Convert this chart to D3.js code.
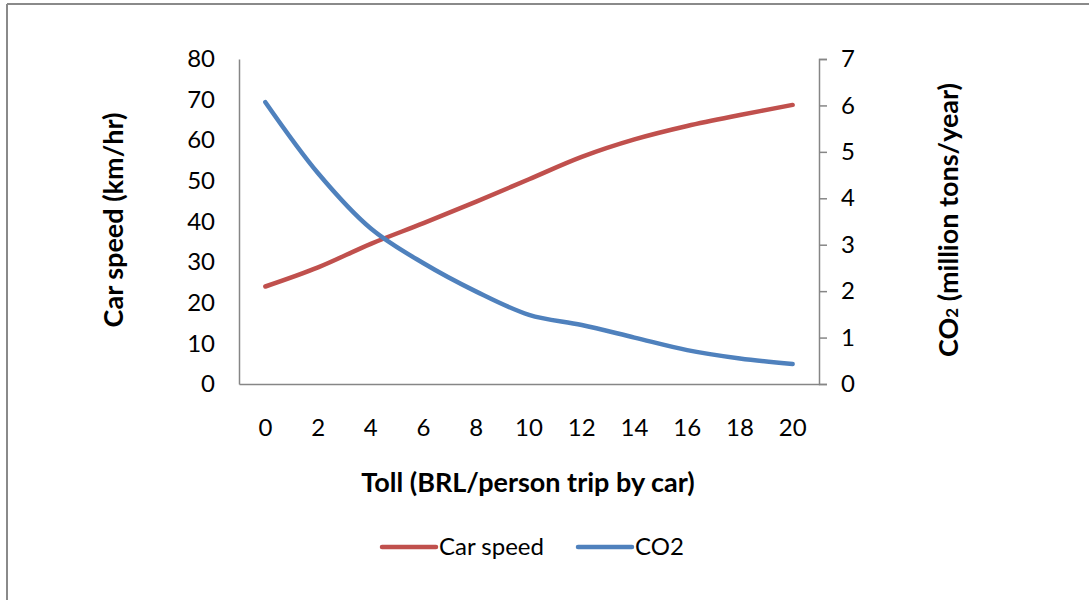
<!DOCTYPE html>
<html lang="en">
  <head>
    <meta charset="utf-8">
    <title>Car speed and CO2 vs toll</title>
    <script src="https://d3js.org/d3.v7.js"></script>
    <style>
      body { margin: 0; background: white; overflow: hidden; }
      svg { display: block; }
      text { font-family: Lato, "Open Sans", sans-serif; fill: #000; }
    </style>
  </head>
  <body>
  <script>

// data
  const tolls = [0, 2, 4, 6, 8, 10, 12, 14, 16, 18, 20];
  const carSpeed = [24, 28.7, 34.5, 39.6, 44.9, 50.4, 55.9, 60.2, 63.5, 66.2, 68.7];
  const co2 = [6.07, 4.54, 3.35, 2.6, 1.99, 1.49, 1.27, 1.0, 0.73, 0.55, 0.43];
  const speedTicks = [0, 10, 20, 30, 40, 50, 60, 70, 80];
  const co2Ticks = [0, 1, 2, 3, 4, 5, 6, 7];

  const w = 1089;
  const h = 600;
  const margin = {top: 59, right: 270, bottom: 216, left: 239};
  const innerWidth = w - margin.left - margin.right;
  const innerHeight = h - margin.top - margin.bottom;

  const axisColor = "#868686";
  const red = "#C0504D";
  const blue = "#4F81BD";
  const tickFont = "24px";
  const titleFont = "27px";

  const xScale = d3.scaleBand()
      .domain(tolls)
      .range([0, innerWidth]);

  const yLeft = d3.scaleLinear()
      .domain([0, 80])
      .range([innerHeight, 0]);

  const yRight = d3.scaleLinear()
      .domain([0, 7])
      .range([innerHeight, 0]);

  const svg = d3.select("body")
    .append("svg")
      .attr("width", w)
      .attr("height", h);

// outer frame (only top and left edges are visible)
  svg.append("line")
      .attr("x1", 7).attr("x2", w)
      .attr("y1", 4).attr("y2", 4)
      .attr("stroke", "#8a8a8a")
      .attr("stroke-width", 2);
  svg.append("line")
      .attr("x1", 7).attr("x2", 7)
      .attr("y1", 4).attr("y2", h)
      .attr("stroke", "#8a8a8a")
      .attr("stroke-width", 2);

  const g = svg.append("g")
      .attr("transform", `translate(${margin.left}, ${margin.top})`);

// left axis: line only, labels to the left
  const leftAxis = g.append("g")
      .call(d3.axisLeft(yLeft).tickValues(speedTicks).tickSize(0).tickPadding(24));
  leftAxis.select(".domain").attr("stroke", axisColor).attr("stroke-width", 1.5);
  leftAxis.selectAll("text").style("font-size", tickFont).style("font-family", "Lato, sans-serif");

// right axis with outer ticks
  const rightAxis = g.append("g")
      .attr("transform", `translate(${innerWidth}, 0)`)
      .call(d3.axisRight(yRight).tickValues(co2Ticks).tickFormat(d3.format("d"))
        .tickSizeOuter(0).tickSize(8).tickPadding(14));
  rightAxis.select(".domain").attr("stroke", axisColor).attr("stroke-width", 1.5);
  rightAxis.selectAll("line").attr("stroke", axisColor).attr("stroke-width", 1.5);
  rightAxis.selectAll("text").style("font-size", tickFont).style("font-family", "Lato, sans-serif");

// bottom axis: line only
  const bottomAxis = g.append("g")
      .attr("transform", `translate(0, ${innerHeight})`)
      .call(d3.axisBottom(xScale).tickSize(0).tickPadding(35));
  bottomAxis.select(".domain").attr("stroke", axisColor).attr("stroke-width", 1.5);
  bottomAxis.selectAll("text").style("font-size", tickFont).style("font-family", "Lato, sans-serif");

// lines
  const cx = d => xScale(d) + xScale.bandwidth() / 2;

  const speedLine = d3.line()
      .x((d, i) => cx(tolls[i]))
      .y(d => yLeft(d))
      .curve(d3.curveCatmullRom.alpha(0.5));

  const co2Line = d3.line()
      .x((d, i) => cx(tolls[i]))
      .y(d => yRight(d))
      .curve(d3.curveCatmullRom.alpha(0.5));

  g.append("path")
      .datum(carSpeed)
      .attr("d", speedLine)
      .attr("fill", "none")
      .attr("stroke", red)
      .attr("stroke-width", 4.5)
      .attr("stroke-linecap", "round");

  g.append("path")
      .datum(co2)
      .attr("d", co2Line)
      .attr("fill", "none")
      .attr("stroke", blue)
      .attr("stroke-width", 4.5)
      .attr("stroke-linecap", "round");

// axis titles
  svg.append("text")
      .attr("transform", "translate(123, 220) rotate(-90)")
      .attr("text-anchor", "middle")
      .style("font-size", titleFont)
      .style("font-weight", "bold")
      .text("Car speed (km/hr)");

  const rt = svg.append("text")
      .attr("transform", "translate(958, 220) rotate(-90)")
      .attr("text-anchor", "middle")
      .style("font-size", titleFont)
      .style("font-weight", "bold");
  rt.append("tspan").text("CO");
  rt.append("tspan").style("font-size", "17px").text("2");
  rt.append("tspan").text("  (million tons/year)");

  svg.append("text")
      .attr("x", 528)
      .attr("y", 492)
      .attr("text-anchor", "middle")
      .style("font-size", titleFont)
      .style("font-weight", "bold")
      .text("Toll (BRL/person trip by car)");

// legend
  const legend = [["Car speed", red, 382], ["CO2", blue, 578]];
  legend.forEach(([name, col, x]) => {
    svg.append("line")
        .attr("x1", x).attr("x2", x + 54)
        .attr("y1", 547).attr("y2", 547)
        .attr("stroke", col)
        .attr("stroke-width", 4.5)
        .attr("stroke-linecap", "round");
    svg.append("text")
        .attr("x", x + 57)
        .attr("y", 555)
        .style("font-size", tickFont)
        .text(name);
  });
  </script>
  </body>
</html>
